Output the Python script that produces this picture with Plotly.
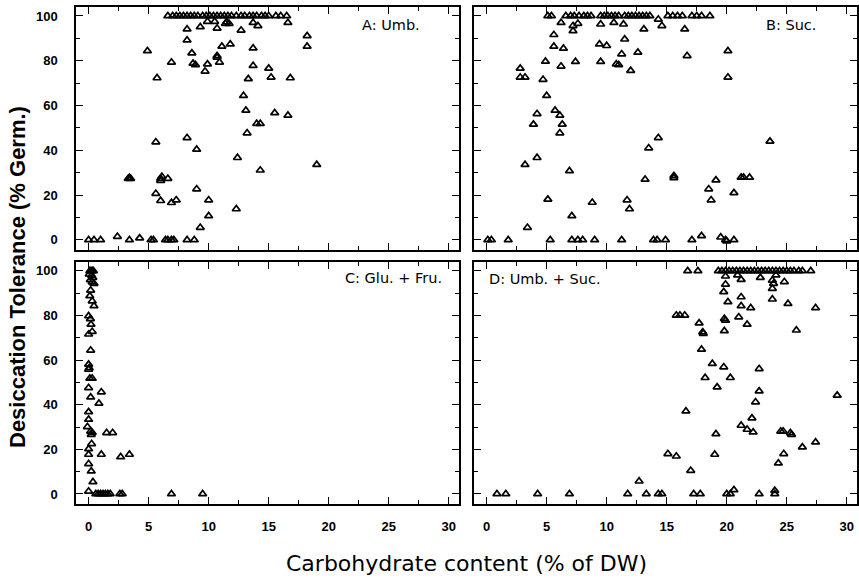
import plotly.graph_objects as go

# Germination (% Germ.) versus carbohydrate content (% of DW), one list per treatment
umb_points = [
    (0.0, 0), (0.45, 0), (1.0, 0), (2.4, 1.5), (3.4, 0), (4.25, 0.8), (5.2, 0), (5.4, 0),
    (6.4, 0), (6.6, 0), (6.9, 0), (7.1, 0), (8.2, 0), (8.8, 0),
    (9.3, 5.5), (10.0, 10.7), (10.0, 17.8), (9.0, 22.7), (12.3, 13.8), (5.6, 20.7),
    (6.0, 17.5), (6.9, 16.6), (7.3, 17.8),
    (3.3, 27.4), (3.4, 27.8), (3.5, 27.4), (6.0, 27.4), (6.0, 26.5), (6.1, 28.3), (6.6, 27.4),
    (5.6, 43.7), (8.2, 45.6), (9.0, 40.4), (12.4, 36.7), (14.3, 31.1), (19.0, 33.6),
    (13.2, 47.7), (14.0, 51.9), (14.3, 51.9), (13.1, 57.8), (15.5, 56.7), (16.6, 55.6),
    (12.9, 64.4),
    (4.9, 84.4), (5.7, 72.3), (6.9, 79.3), (8.6, 83.4), (8.7, 78.8), (8.9, 78.2), (9.7, 75.3),
    (9.9, 78.5), (10.7, 82.2), (10.7, 81.5), (10.9, 79.3), (11.1, 86.4), (11.8, 87.4),
    (13.7, 85.6), (13.7, 77.8), (13.3, 71.9), (15.0, 76.6), (15.2, 72.6), (16.8, 72.3),
    (18.2, 91.1), (18.2, 86.4), (8.2, 94.1), (8.2, 89.2), (9.3, 95.1), (10.7, 94.5),
    (12.7, 93.6), (14.1, 95.6), (13.7, 97.0), (16.6, 97.0), (11.4, 96.6), (11.7, 96.6),
    (11.5, 97.3), (9.9, 97.5), (10.5, 97.5),
    (6.6, 100), (7.0, 100), (7.3, 100), (7.6, 100), (7.9, 100), (8.2, 100), (8.5, 100),
    (8.8, 100), (9.1, 100), (9.5, 100), (9.8, 100), (10.1, 100), (10.4, 100), (10.7, 100),
    (11.0, 100), (11.3, 100), (11.6, 100), (11.9, 100), (12.3, 100), (12.7, 100),
    (13.0, 100), (13.4, 100), (13.7, 100), (14.0, 100), (14.4, 100), (14.7, 100),
    (15.0, 100), (15.6, 100), (16.0, 100), (16.5, 100),
]

suc_points = [
    (0.1, 0), (0.4, 0), (1.8, 0), (5.3, 0), (7.1, 0), (7.6, 0), (8.0, 0), (9.0, 0),
    (11.25, 0), (13.9, 0), (14.2, 0), (14.9, 0), (17.1, 0), (17.9, 1.8), (19.5, 1.2),
    (19.9, 0), (20.0, -0.5), (20.6, 0),
    (3.4, 5.5), (7.1, 10.7), (5.1, 18.1), (8.8, 16.7), (11.7, 17.8), (11.9, 13.8),
    (6.9, 30.8), (3.2, 33.6), (4.2, 36.7), (13.2, 27.0), (13.5, 41.0), (14.3, 45.6),
    (15.6, 28.6), (15.6, 27.7), (19.1, 26.7), (18.5, 22.7), (18.7, 17.8), (20.6, 21.0),
    (21.2, 27.9), (21.4, 27.9), (21.9, 27.9), (23.6, 44.0),
    (3.9, 51.6), (4.2, 56.3), (5.0, 64.4), (5.7, 57.8), (6.1, 55.6), (6.3, 51.6),
    (6.1, 47.7), (4.7, 71.6), (2.8, 76.6), (2.8, 72.6), (3.2, 72.6),
    (4.9, 79.7), (5.6, 91.6), (5.6, 86.4), (6.4, 85.5), (6.2, 77.5), (7.4, 79.6),
    (9.5, 79.6), (9.4, 87.4), (10.0, 86.7), (10.8, 78.5), (11.0, 78.2), (11.25, 83.0),
    (11.5, 89.6), (12.0, 75.6), (12.6, 83.7), (7.2, 95.6), (7.2, 93.3), (6.2, 97.0),
    (7.6, 96.6), (9.5, 96.3), (10.6, 97.0), (11.4, 96.3), (13.1, 94.1), (14.6, 95.6),
    (14.3, 98.5), (16.5, 94.1), (16.7, 82.2), (20.1, 84.4), (20.1, 72.6),
    (5.1, 100), (5.4, 100), (6.6, 100), (7.0, 100), (7.3, 100), (7.7, 100), (8.1, 100),
    (8.4, 100), (8.7, 100), (9.5, 100), (9.8, 100), (10.1, 100), (10.4, 100), (10.7, 100),
    (11.0, 100), (11.5, 100), (11.8, 100), (12.1, 100), (12.4, 100), (12.7, 100),
    (13.0, 100), (13.3, 100), (13.6, 100), (15.1, 100), (15.5, 100), (15.9, 100),
    (16.3, 100), (17.1, 100), (17.5, 100), (17.9, 100), (18.6, 100),
]

glufru_points = [
    (0.1, 100), (0.2, 100), (0.3, 100), (0.4, 100), (0.05, 98.5), (0.25, 98), (0.35, 97),
    (0.15, 96), (0.3, 95), (0.45, 94.3), (0.17, 91.3), (0.1, 88.8), (0.3, 86.5),
    (0.45, 84.3), (0.0, 79.8), (0.15, 78.5), (0.2, 76), (0.0, 71.6), (0.3, 72.8),
    (0.17, 64.4), (0.0, 58.1), (0.05, 56.5), (0.0, 55.8), (0.1, 51.8), (0.3, 51.8),
    (0.0, 47.6), (0.17, 43.4), (1.06, 45.7), (0.86, 40.6), (0.0, 36.8), (0.0, 33.4),
    (-0.1, 30.1), (0.17, 28.1), (0.22, 26.6), (0.3, 27.5), (1.5, 27.4), (2.0, 27.4),
    (0.25, 22.5), (0.0, 20.2), (0.0, 17.7), (1.06, 17.7), (2.67, 16.6), (3.4, 17.7),
    (0.0, 13.5), (0.22, 10.2), (0.36, 5.4), (0.0, 1.2),
    (0.6, 0), (0.8, 0), (1.0, 0), (1.2, 0), (1.4, 0), (1.6, 0), (1.8, 0), (2.6, 0),
    (2.8, 0), (6.9, 0), (9.5, 0),
]

umbsuc_points = [
    (0.86, 0), (1.6, 0), (4.25, 0), (6.9, 0), (11.75, 0), (13.3, 0), (14.3, 0), (14.6, 0),
    (17.25, 0), (17.8, 0), (20.0, 0), (20.3, 0), (22.7, 0), (24.0, 0), (20.6, 1.8),
    (24.0, 1.5),
    (12.7, 5.7), (15.1, 18.0), (15.8, 16.9), (17.0, 10.5), (19.0, 17.7), (19.1, 26.9),
    (16.6, 37.1), (21.2, 30.7), (21.7, 28.9), (22.2, 27.7), (22.1, 34.0), (22.4, 41.2),
    (22.7, 46.1), (24.3, 13.8), (24.75, 18.0), (24.5, 28.1), (24.7, 28.1), (25.3, 27.4),
    (25.4, 26.6), (26.3, 21.0), (27.4, 23.2), (29.2, 44.2),
    (17.9, 64.8), (18.8, 58.4), (19.75, 56.9), (18.2, 52.1), (20.3, 52.1), (19.2, 47.9),
    (22.7, 56.1),
    (15.8, 80.1), (16.1, 80.1), (16.5, 80.1), (17.7, 76.6), (18.0, 72.6), (18.05, 71.9),
    (19.8, 78.6), (19.9, 77.8), (19.8, 73.1), (21.0, 79.3), (21.7, 76.0), (20.1, 86.1),
    (21.2, 88.3), (21.2, 84.3), (22.0, 83.4), (23.8, 87.3), (25.1, 85.3), (27.4, 83.4),
    (25.8, 73.4), (19.75, 90.6), (19.9, 94.0), (23.8, 92.1), (23.9, 94.3), (23.8, 95.8),
    (24.8, 95.1), (21.2, 96.1), (22.8, 97.0), (19.9, 97.6), (20.9, 98.1), (24.1, 98.1),
    (16.75, 100), (17.6, 100), (19.3, 100), (19.6, 100), (19.9, 100), (20.2, 100),
    (20.5, 100), (20.8, 100), (21.1, 100), (21.4, 100), (21.7, 100), (22.0, 100),
    (22.3, 100), (22.6, 100), (22.9, 100), (23.2, 100), (23.5, 100), (23.8, 100),
    (24.1, 100), (24.4, 100), (24.7, 100), (25.0, 100), (25.3, 100), (25.6, 100),
    (26.0, 100), (26.3, 100), (27.0, 100),
]

panel_labels = ["A: Umb.", "B: Suc.", "C: Glu. + Fru.", "D: Umb. + Suc."]
x_ticks = [0, 5, 10, 15, 20, 25, 30]
y_ticks = [0, 20, 40, 60, 80, 100]

W, H = 859, 582

fig = go.Figure()

panels = [
    (umb_points, "x", "y"),
    (suc_points, "x2", "y2"),
    (glufru_points, "x3", "y3"),
    (umbsuc_points, "x4", "y4"),
]
for pts, xa, ya in panels:
    xs, ys = zip(*pts)
    fig.add_trace(go.Scatter(
        x=list(xs), y=list(ys), xaxis=xa, yaxis=ya, mode="markers",
        marker=dict(symbol="triangle-up-open", size=7, color="black",
                    line=dict(width=1.7, color="black")),
        showlegend=False, cliponaxis=False,
    ))

tick_font = dict(family="Liberation Sans", size=13, color="black", weight="bold")


def xaxis_cfg(domain, anchor, labels):
    return dict(
        domain=domain, anchor=anchor, range=[-1.05, 30.85],
        tickvals=x_ticks, ticktext=[str(v) for v in x_ticks], showticklabels=labels,
        ticks="inside", ticklen=7, tickwidth=1.4, tickcolor="black",
        minor=dict(dtick=2.5, tick0=0, ticks="inside", ticklen=4, tickwidth=1.2,
                   tickcolor="black", showgrid=False),
        showline=True, linewidth=1.5, linecolor="black", mirror="ticks",
        showgrid=False, zeroline=False, tickfont=tick_font, ticklabelstandoff=10,
    )


def yaxis_cfg(domain, anchor, labels):
    return dict(
        domain=domain, anchor=anchor, range=[-4.5, 104],
        tickvals=y_ticks, ticktext=[str(v) for v in y_ticks], showticklabels=labels,
        ticks="inside", ticklen=7, tickwidth=1.4, tickcolor="black",
        minor=dict(dtick=10, tick0=0, ticks="inside", ticklen=4, tickwidth=1.2,
                   tickcolor="black", showgrid=False),
        showline=True, linewidth=1.5, linecolor="black", mirror="ticks",
        showgrid=False, zeroline=False, tickfont=tick_font, ticklabelstandoff=14,
    )


left_dom = [76 / W, 459 / W]
right_dom = [474 / W, 857 / W]
top_dom = [(H - 250) / H, (H - 7) / H]
bot_dom = [(H - 504) / H, (H - 262) / H]

fig.update_layout(
    width=W, height=H,
    margin=dict(l=0, r=0, t=0, b=0),
    paper_bgcolor="white", plot_bgcolor="white",
    xaxis=xaxis_cfg(left_dom, "y", False),
    yaxis=yaxis_cfg(top_dom, "x", True),
    xaxis2=xaxis_cfg(right_dom, "y2", False),
    yaxis2=yaxis_cfg(top_dom, "x2", False),
    xaxis3=xaxis_cfg(left_dom, "y3", True),
    yaxis3=yaxis_cfg(bot_dom, "x3", True),
    xaxis4=xaxis_cfg(right_dom, "y4", True),
    yaxis4=yaxis_cfg(bot_dom, "x4", False),
)

label_font = dict(family="DejaVu Sans", size=14.5, color="black")
fig.add_annotation(text=panel_labels[0], xref="x", yref="y", x=27.8, y=96,
                   xanchor="right", yanchor="middle", showarrow=False, font=label_font)
fig.add_annotation(text=panel_labels[1], xref="x2", yref="y2", x=27.6, y=96,
                   xanchor="right", yanchor="middle", showarrow=False, font=label_font)
fig.add_annotation(text=panel_labels[2], xref="x3", yref="y3", x=29.6, y=97,
                   xanchor="right", yanchor="middle", showarrow=False, font=label_font)
fig.add_annotation(text=panel_labels[3], xref="x4", yref="y4", x=0.0, y=96.5,
                   xanchor="left", yanchor="middle", showarrow=False, font=label_font)

# Shared axis titles
fig.add_annotation(text="Desiccation Tolerance (% Germ.)", xref="paper", yref="paper",
                   x=17 / W, y=1 - 277 / H, textangle=-90, showarrow=False,
                   xanchor="center", yanchor="middle",
                   font=dict(family="Liberation Sans", size=22, color="black", weight="bold"))
fig.add_annotation(text="Carbohydrate content (% of DW)", xref="paper", yref="paper",
                   x=466 / W, y=1 - 563 / H, showarrow=False,
                   xanchor="center", yanchor="middle",
                   font=dict(family="DejaVu Sans", size=22, color="black"))

fig.write_html("out.html")
